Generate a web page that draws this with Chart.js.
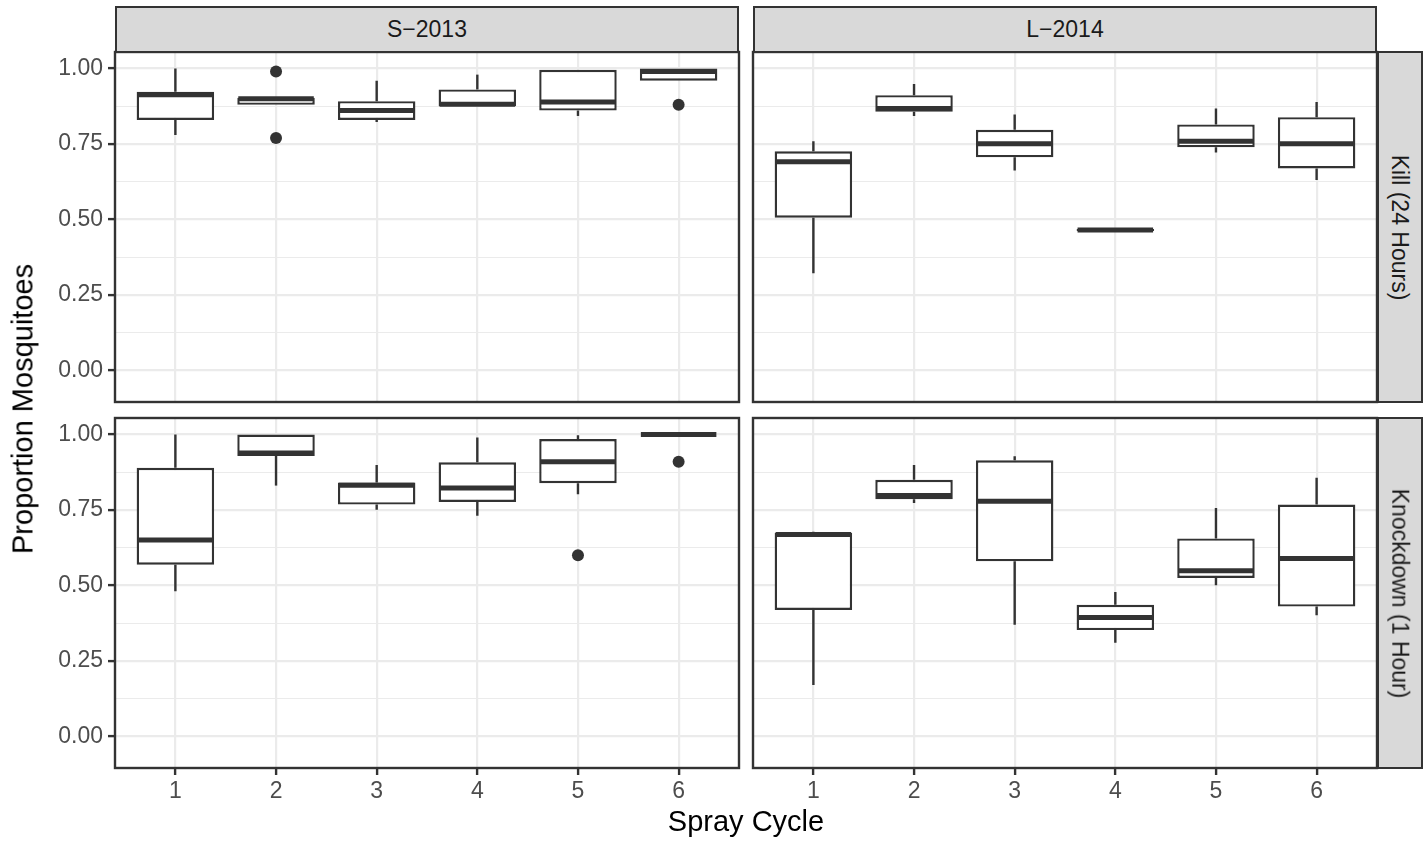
<!DOCTYPE html>
<html>
<head>
<meta charset="utf-8">
<script src="https://cdn.jsdelivr.net/npm/chart.js@4.4.0/dist/chart.umd.min.js"></script>
<style>
  body { margin: 0; background: #fff; }
  #wrap { position: relative; width: 1427px; height: 843px; overflow: hidden; font-family: "Liberation Sans", Arial, sans-serif; }
  #wrap canvas { position: absolute; }
  .strip { position: absolute; box-sizing: border-box; background: #d9d9d9; border: 2px solid #333; color: #1a1a1a; font-size: 23px; display: flex; align-items: center; justify-content: center; }
  .strip.side span { transform: rotate(90deg); white-space: nowrap; }
  .title { position: absolute; font-size: 29px; color: #000; white-space: nowrap; transform: translate(-50%, -50%); }
</style>
</head>
<body>
<div id="wrap">
  <div class="strip" style="left:115px; top:6px; width:624px; height:47px;">S−2013</div>
  <div class="strip" style="left:753px; top:6px; width:624px; height:47px;">L−2014</div>
  <div class="strip side" style="left:1377px; top:51px; width:46px; height:352px;"><span>Kill (24 Hours)</span></div>
  <div class="strip side" style="left:1377px; top:417px; width:46px; height:352px;"><span>Knockdown (1 Hour)</span></div>
  <div class="title" style="left:746px; top:821px;">Spray Cycle</div>
  <div class="title" style="left:23px; top:409px; transform: translate(-50%, -50%) rotate(-90deg);">Proportion Mosquitoes</div>
</div>
<script>
var cycles = [1, 2, 3, 4, 5, 6];
var yBreaks = [0, 0.125, 0.25, 0.375, 0.5, 0.625, 0.75, 0.875, 1];
var yLabels = ["0.00", "", "0.25", "", "0.50", "", "0.75", "", "1.00"];

// S-2013, Kill (24 Hours)
var s13KillLow  = [0.78, 0.880, 0.823, 0.875, 0.843, 0.96];
var s13KillQ1   = [0.83, 0.880, 0.830, 0.875, 0.861, 0.96];
var s13KillMed  = [0.913, 0.900, 0.861, 0.882, 0.889, 0.99];
var s13KillQ3   = [0.923, 0.903, 0.892, 0.931, 0.996, 1.0];
var s13KillHigh = [1.0, 0.903, 0.960, 0.980, 0.996, 1.0];
var s13KillOut  = [{x: 2, y: 0.99}, {x: 2, y: 0.77}, {x: 6, y: 0.88}];

// L-2014, Kill (24 Hours)
var l14KillLow  = [0.322, 0.843, 0.662, 0.462, 0.722, 0.631];
var l14KillQ1   = [0.506, 0.857, 0.706, 0.462, 0.739, 0.669];
var l14KillMed  = [0.691, 0.868, 0.751, 0.465, 0.759, 0.751];
var l14KillQ3   = [0.726, 0.912, 0.797, 0.468, 0.815, 0.839];
var l14KillHigh = [0.759, 0.949, 0.848, 0.468, 0.868, 0.889];
var l14KillOut  = [];

// S-2013, Knockdown (1 Hour)
var s13KnockLow  = [0.481, 0.831, 0.751, 0.731, 0.802, 1.0];
var s13KnockQ1   = [0.569, 0.929, 0.768, 0.777, 0.839, 1.0];
var s13KnockMed  = [0.651, 0.939, 0.832, 0.823, 0.910, 1.0];
var s13KnockQ3   = [0.890, 1.0, 0.841, 0.908, 0.985, 1.0];
var s13KnockHigh = [1.0, 1.0, 0.899, 0.990, 0.998, 1.0];
var s13KnockOut  = [{x: 5, y: 0.60}, {x: 6, y: 0.91}];

// L-2014, Knockdown (1 Hour)
var l14KnockLow  = [0.170, 0.773, 0.370, 0.310, 0.501, 0.401];
var l14KnockQ1   = [0.419, 0.786, 0.580, 0.352, 0.525, 0.430];
var l14KnockMed  = [0.669, 0.798, 0.779, 0.394, 0.549, 0.589];
var l14KnockQ3   = [0.675, 0.850, 0.915, 0.436, 0.656, 0.768];
var l14KnockHigh = [0.678, 0.899, 0.928, 0.478, 0.757, 0.857];
var l14KnockOut  = [];

Chart.defaults.font.family = '"Liberation Sans", Arial, sans-serif';

var ink = "#333333";

// whiskers under the boxes, medians over them, then the panel frame
var boxParts = {
  id: "boxParts",
  beforeDatasetsDraw: function (chart, args, opts) {
    var ctx = chart.ctx, x = chart.scales.x, y = chart.scales.y;
    ctx.save();
    ctx.strokeStyle = ink;
    ctx.lineWidth = 2.4;
    for (var i = 0; i < cycles.length; i++) {
      var px = x.getPixelForValue(cycles[i]);
      ctx.beginPath();
      ctx.moveTo(px, y.getPixelForValue(opts.q3[i]));
      ctx.lineTo(px, y.getPixelForValue(opts.high[i]));
      ctx.moveTo(px, y.getPixelForValue(opts.q1[i]));
      ctx.lineTo(px, y.getPixelForValue(opts.low[i]));
      ctx.stroke();
    }
    ctx.restore();
  },
  afterDatasetsDraw: function (chart, args, opts) {
    var ctx = chart.ctx, y = chart.scales.y;
    var bars = chart.getDatasetMeta(0).data;
    ctx.save();
    ctx.strokeStyle = ink;
    ctx.lineWidth = 5;
    for (var i = 0; i < bars.length; i++) {
      var half = bars[i].width / 2 - 1;
      var py = y.getPixelForValue(opts.median[i]);
      ctx.beginPath();
      ctx.moveTo(bars[i].x - half, py);
      ctx.lineTo(bars[i].x + half, py);
      ctx.stroke();
    }
    ctx.restore();
  },
  afterDraw: function (chart) {
    var ctx = chart.ctx, a = chart.chartArea;
    ctx.save();
    ctx.strokeStyle = ink;
    ctx.lineWidth = 2.4;
    ctx.strokeRect(a.left, a.top, a.right - a.left, a.bottom - a.top);
    ctx.restore();
  }
};

function isMajor(c) {
  return yLabels[c.index] !== "";
}

function makePanel(panel, d, showX, showY) {
  var leftW = showY ? 80 : 3;
  var bottomH = showX ? 45 : 3;
  var cv = document.createElement("canvas");
  cv.width = panel.w + leftW + 3;
  cv.height = panel.h + 3 + bottomH;
  cv.style.left = (panel.x - leftW) + "px";
  cv.style.top = (panel.y - 3) + "px";
  var wrap = document.getElementById("wrap");
  wrap.insertBefore(cv, wrap.firstChild);

  new Chart(cv.getContext("2d"), {
    type: "bar",
    data: {
      datasets: [
        {
          type: "bar",
          data: cycles.map(function (c, i) { return {x: c, y: [d.q1[i], d.q3[i]]}; }),
          backgroundColor: "#ffffff",
          borderColor: ink,
          borderWidth: 2.4,
          borderSkipped: false,
          categoryPercentage: 0.77,
          barPercentage: 1
        },
        {
          type: "scatter",
          data: d.out,
          pointRadius: 6,
          pointBackgroundColor: ink,
          pointBorderWidth: 0
        }
      ]
    },
    options: {
      responsive: false,
      animation: false,
      events: [],
      layout: { autoPadding: false, padding: { left: showY ? 0 : 3, right: 3, top: 3, bottom: showX ? 0 : 3 } },
      plugins: {
        legend: { display: false },
        tooltip: { enabled: false },
        boxParts: d
      },
      scales: {
        x: {
          type: "linear",
          min: 0.4,
          max: 6.6,
          offset: false,
          afterBuildTicks: function (s) { s.ticks = cycles.map(function (v) { return {value: v}; }); },
          afterFit: function (s) { s.height = showX ? 45 : 0; s.paddingLeft = 0; s.paddingRight = 0; },
          border: { display: false },
          grid: { offset: false, color: "#ebebeb", lineWidth: 2.2, drawTicks: showX, tickLength: 7, tickColor: ink, tickWidth: 2.4 },
          ticks: {
            display: showX, autoSkip: false, maxRotation: 0, padding: 3,
            color: "#4d4d4d", font: { size: 23 },
            callback: function (v) { return String(v); }
          }
        },
        y: {
          type: "linear",
          min: -0.105,
          max: 1.055,
          afterBuildTicks: function (s) { s.ticks = yBreaks.map(function (v) { return {value: v}; }); },
          afterFit: function (s) { s.width = showY ? 80 : 0; s.paddingTop = 0; s.paddingBottom = 0; },
          border: { display: false },
          grid: {
            color: "#ebebeb",
            lineWidth: function (c) { return isMajor(c) ? 2.2 : 1.1; },
            drawTicks: showY, tickLength: 7, tickWidth: 2.4,
            tickColor: function (c) { return isMajor(c) ? ink : "rgba(0,0,0,0)"; }
          },
          ticks: {
            display: showY, autoSkip: false, padding: 5,
            color: "#4d4d4d", font: { size: 23 },
            callback: function (v, i) { return yLabels[i]; }
          }
        }
      }
    },
    plugins: [boxParts]
  });
}

makePanel({x: 115, y: 52, w: 624, h: 350},
  {low: s13KillLow, q1: s13KillQ1, median: s13KillMed, q3: s13KillQ3, high: s13KillHigh, out: s13KillOut}, false, true);
makePanel({x: 753, y: 52, w: 624, h: 350},
  {low: l14KillLow, q1: l14KillQ1, median: l14KillMed, q3: l14KillQ3, high: l14KillHigh, out: l14KillOut}, false, false);
makePanel({x: 115, y: 418, w: 624, h: 350},
  {low: s13KnockLow, q1: s13KnockQ1, median: s13KnockMed, q3: s13KnockQ3, high: s13KnockHigh, out: s13KnockOut}, true, true);
makePanel({x: 753, y: 418, w: 624, h: 350},
  {low: l14KnockLow, q1: l14KnockQ1, median: l14KnockMed, q3: l14KnockQ3, high: l14KnockHigh, out: l14KnockOut}, true, false);
</script>
</body>
</html>
